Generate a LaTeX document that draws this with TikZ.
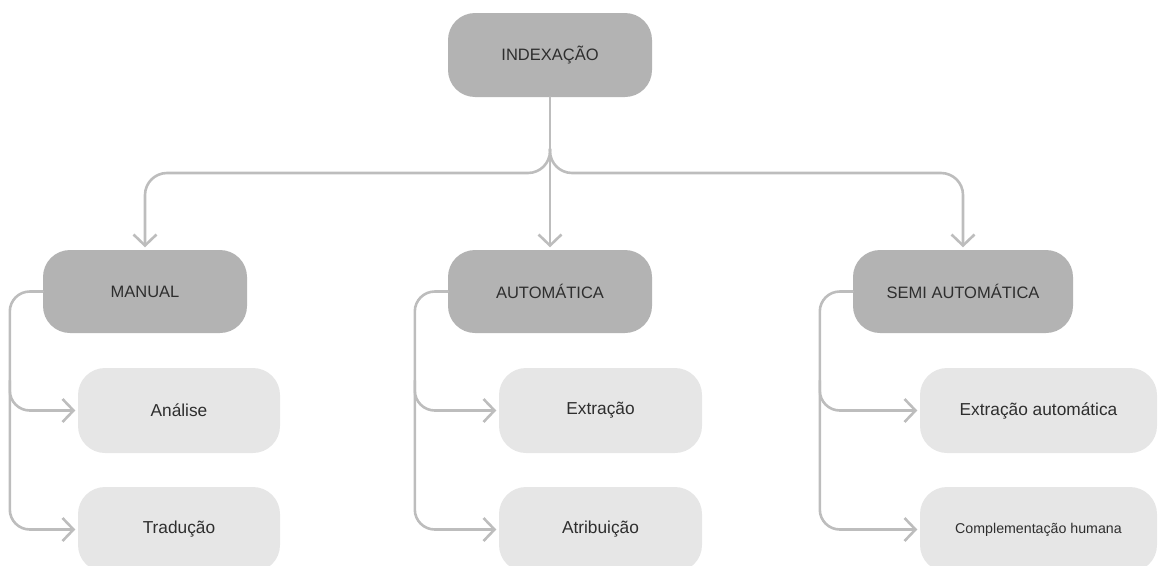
\documentclass[tikz,border=0pt]{standalone}
\usepackage{fontspec}
\setmainfont{Liberation Sans}
\usetikzlibrary{arrows.meta,calc}
\definecolor{darkbox}{HTML}{B3B3B3}
\definecolor{lightbox}{HTML}{E6E6E6}
\definecolor{linecol}{HTML}{BDBDBD}
\definecolor{txt}{HTML}{2E2E2E}
\tikzset{
  box/.style={rectangle, rounded corners=27pt, inner sep=0pt, text=txt, minimum height=84pt},
  parentbox/.style={box, fill=darkbox, font=\fontsize{16.5}{19}\selectfont},
  childbox/.style={box, fill=lightbox, minimum height=85pt, font=\fontsize{17.3}{20}\selectfont},
  conn/.style={draw=linecol, line width=2.6pt, line cap=round, line join=round},
  tip/.style={-{Straight Barb[length=11pt,width=23pt]}, shorten >=2.5pt},
}
\begin{document}
\begin{tikzpicture}[x=1pt,y=-1pt]
\useasboundingbox (0,0) rectangle (1161,565);
\begin{scope}
\clip (0,0) rectangle (1161,565);
% parent nodes
\node[parentbox, minimum width=204pt] (idx) at (550,55) {INDEXAÇÃO};
\node[parentbox, minimum width=204pt, minimum height=83pt] (manual) at (145,291.5) {MANUAL};
\node[parentbox, minimum width=204pt, minimum height=83pt] (auto) at (550,291.5) {AUTOMÁTICA};
\node[parentbox, minimum width=220pt, minimum height=83pt] (semi) at (963,291.5) {SEMI AUTOMÁTICA};
% children
\node[childbox, minimum width=202pt] (analise) at (179,410.5) {Análise};
\node[childbox, minimum width=202pt] (traducao) at (179,529.5) {Tradução};
\node[childbox, minimum width=203pt] (extr) at (600.5,410.5) {Extração};
\node[childbox, minimum width=203pt] (atrib) at (600.5,529.5) {Atribuição};
\node[childbox, minimum width=237pt] (extauto) at (1038.5,410.5) {Extração automática};
\node[childbox, minimum width=237pt, font=\fontsize{14.2}{17}\selectfont] (compl) at (1038.5,529.5) {Complementação humana};
% top connectors
\coordinate (hub) at (550,173);
\draw[conn,tip] (idx.south) -- (auto.north);
\draw[conn,tip,rounded corners=22pt] ($(hub)+(0,-24)$) -- (hub) -- (hub -| manual.north) -- (manual.north);
\draw[conn,tip,rounded corners=22pt] ($(hub)+(0,-24)$) -- (hub) -- (hub -| semi.north) -- (semi.north);
% brackets
\coordinate (bm) at ($(manual.west)+(-33,0)$);
\coordinate (ba) at ($(auto.west)+(-33,0)$);
\coordinate (bs) at ($(semi.west)+(-33,0)$);
\draw[conn,tip,rounded corners=20pt] (manual.west) -- (bm) -- (traducao.west -| bm) -- (traducao.west);
\draw[conn,tip,rounded corners=20pt] ($(analise.west -| bm)+(0,-30)$) -- (analise.west -| bm) -- (analise.west);
\draw[conn,tip,rounded corners=20pt] (auto.west) -- (ba) -- (atrib.west -| ba) -- (atrib.west);
\draw[conn,tip,rounded corners=20pt] ($(extr.west -| ba)+(0,-30)$) -- (extr.west -| ba) -- (extr.west);
\draw[conn,tip,rounded corners=20pt] (semi.west) -- (bs) -- (compl.west -| bs) -- (compl.west);
\draw[conn,tip,rounded corners=20pt] ($(extauto.west -| bs)+(0,-30)$) -- (extauto.west -| bs) -- (extauto.west);
\end{scope}
\end{tikzpicture}
\end{document}
